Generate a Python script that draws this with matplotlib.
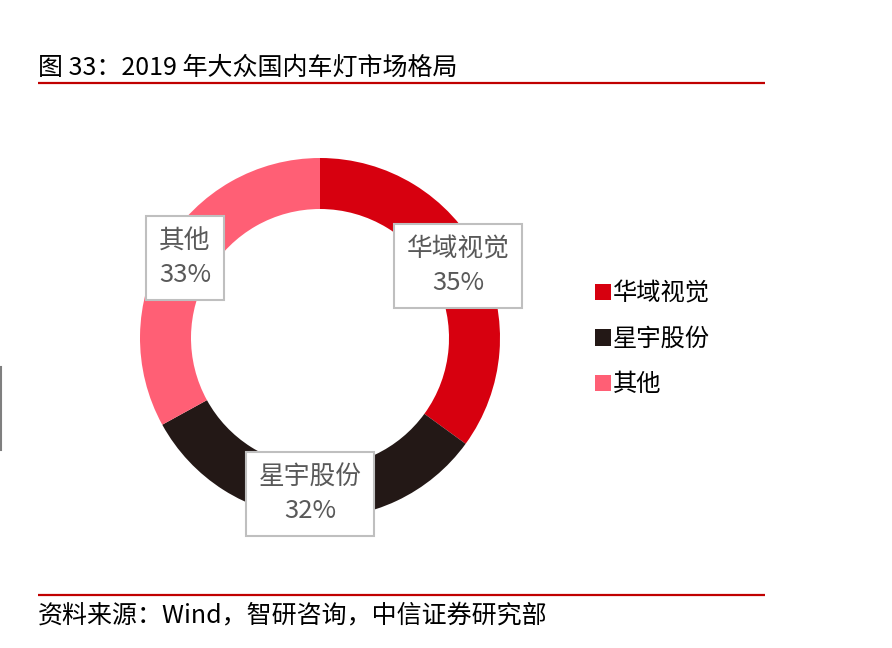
import matplotlib
matplotlib.use('Agg')
import matplotlib.pyplot as plt

plt.rcParams['font.family'] = ['Liberation Sans Narrow', 'Noto Sans CJK SC', 'DejaVu Sans']

# 数据
companies = ['华域视觉', '星宇股份', '其他']
shares = [35, 32, 33]
colors = ['#D7000F', '#231816', '#FF5F75']
# 标注框中心位置 (像素, 自上而下)
label_pos = [(458, 266), (310, 494), (185, 258)]

W, H = 892, 648
fig = plt.figure(figsize=(W / 100, H / 100), dpi=100)
ax = fig.add_axes([0, 0, 1, 1])

cx, cy, R = 320, H - 338, 180
wedges, _ = ax.pie(shares, colors=colors, startangle=90, counterclock=False,
                   center=(cx, cy), radius=R, frame=True,
                   wedgeprops=dict(width=51, edgecolor='none'))

ax.set_xlim(0, W)
ax.set_ylim(0, H)
ax.set_aspect('auto')
ax.axis('off')

# 数据标注
for name, v, (px, py) in zip(companies, shares, label_pos):
    ax.text(px, H - py, f'{name}\n{v}%', ha='center', va='center',
            fontsize=18.5, color='#595959', linespacing=1.35,
            bbox=dict(boxstyle='square,pad=0.5', fc='white', ec='#BFBFBF', lw=1.5))

# 图例
ax.legend(wedges, companies, loc='center left', bbox_to_anchor=(595 / W, 1 - 339 / H),
          frameon=False, fontsize=17.5, handlelength=0.65, handleheight=0.65,
          handletextpad=0.1, labelspacing=0.8, borderpad=0, borderaxespad=0)

# 标题和来源
fig.text(38 / W, 1 - 68 / H, '图 33：2019 年大众国内车灯市场格局', fontsize=18,
         ha='left', va='center', color='black')
fig.text(38 / W, 1 - 615 / H, '资料来源：Wind，智研咨询，中信证券研究部', fontsize=18,
         ha='left', va='center', color='black')

ax.plot([38, 765], [H - 83, H - 83], color='#C00000', lw=1.6, solid_capstyle='butt')
ax.plot([38, 765], [H - 595, H - 595], color='#C00000', lw=1.6, solid_capstyle='butt')
ax.plot([0.8, 0.8], [H - 367, H - 450], color='#7F7F7F', lw=1.5)

fig.savefig('out.png', dpi=100)
